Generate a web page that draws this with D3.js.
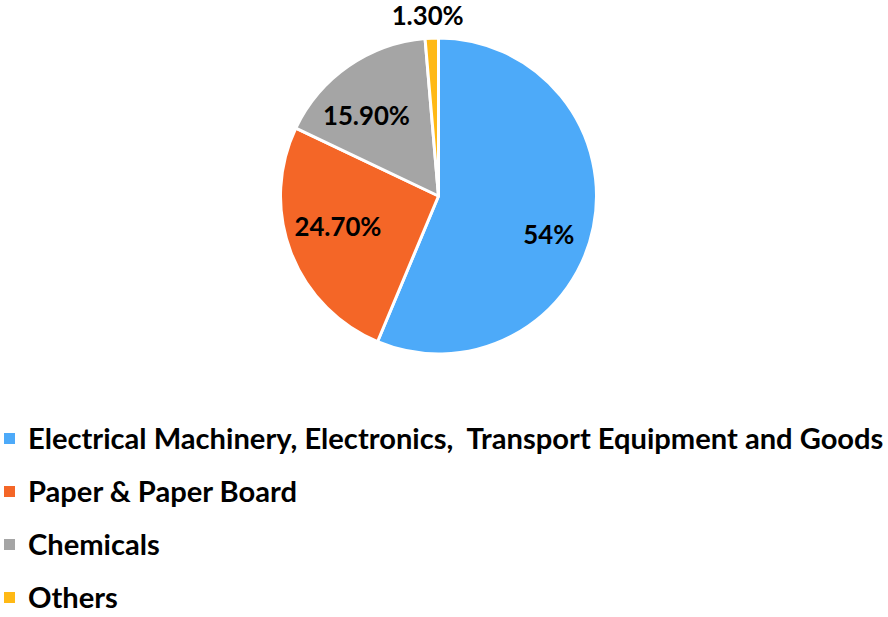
<!DOCTYPE html>
<html><head><meta charset="utf-8">
<script src="https://cdn.jsdelivr.net/npm/d3@7"></script>
<style>body{margin:0;background:#fff}svg{display:block}text{white-space:pre}</style>
</head><body>
<script>
const categories = ["Electrical Machinery, Electronics,  Transport Equipment and Goods", "Paper & Paper Board", "Chemicals", "Others"];
const values = [54, 24.7, 15.9, 1.3];
const labels = ["54%", "24.70%", "15.90%", "1.30%"];
const colors = ["#4DAAF9", "#F46627", "#A5A5A5", "#FFB915"];
// label placement style (best-fit nudges): radius as fraction of pie radius, angle nudge in degrees
const labelRadius = [0.74, 0.665, 0.685, 1.14];
const labelNudge = [8, 4, -7, -1];

const W = 888, H = 617;
const svg = d3.select("body").append("svg").attr("width", W).attr("height", H);
const font = "Lato, 'Liberation Sans', sans-serif";

const cx = 438.5, cy = 196, r = 158;
const data = categories.map((c, i) => ({cat: c, value: values[i], label: labels[i], color: colors[i], lr: labelRadius[i], ln: labelNudge[i]}));
const pie = d3.pie().sort(null).value(d => d.value);
const arcs = pie(data);
const arc = d3.arc().innerRadius(0).outerRadius(r);
const g = svg.append("g").attr("transform", `translate(${cx},${cy})`);
g.selectAll("path").data(arcs).join("path")
  .attr("d", arc).attr("fill", d => d.data.color)
  .attr("stroke", "#fff").attr("stroke-width", 3).attr("stroke-linejoin", "round");

function fit(text, target, weight) {
  const t = svg.append("text").attr("xml:space", "preserve").style("font-family", font).style("font-weight", weight).style("font-size", "100px").text(text);
  const w = t.node().getComputedTextLength(); t.remove();
  return 100 * target / w;
}
const labelSize = fit("24.70%", 87, 700);
g.selectAll("text.lbl").data(arcs).join("text").attr("class", "lbl")
  .attr("transform", d => {
    const a = (d.startAngle + d.endAngle) / 2 + d.data.ln * Math.PI / 180;
    const rr = r * d.data.lr;
    return `translate(${rr * Math.sin(a)},${-rr * Math.cos(a)})`;
  })
  .attr("text-anchor", "middle").attr("dy", "0.36em")
  .style("font-family", font).style("font-weight", 700).style("font-size", labelSize + "px")
  .attr("fill", "#000").text(d => d.data.label);

// legend
const legSize = fit(categories[0], 856, 700);
const ly = d3.scalePoint().domain(categories).range([438.5, 597.5]);
const leg = svg.append("g");
const items = leg.selectAll("g").data(data).join("g").attr("transform", d => `translate(0,${ly(d.cat)})`);
items.append("rect").attr("x", 4).attr("y", -5.5).attr("width", 11).attr("height", 11).attr("fill", d => d.color);
items.append("text").attr("x", 28).attr("y", legSize * 0.36)
  .attr("xml:space", "preserve")
  .style("font-family", font).style("font-weight", 700).style("font-size", legSize + "px")
  .text(d => d.cat);
</script>
</body></html>
